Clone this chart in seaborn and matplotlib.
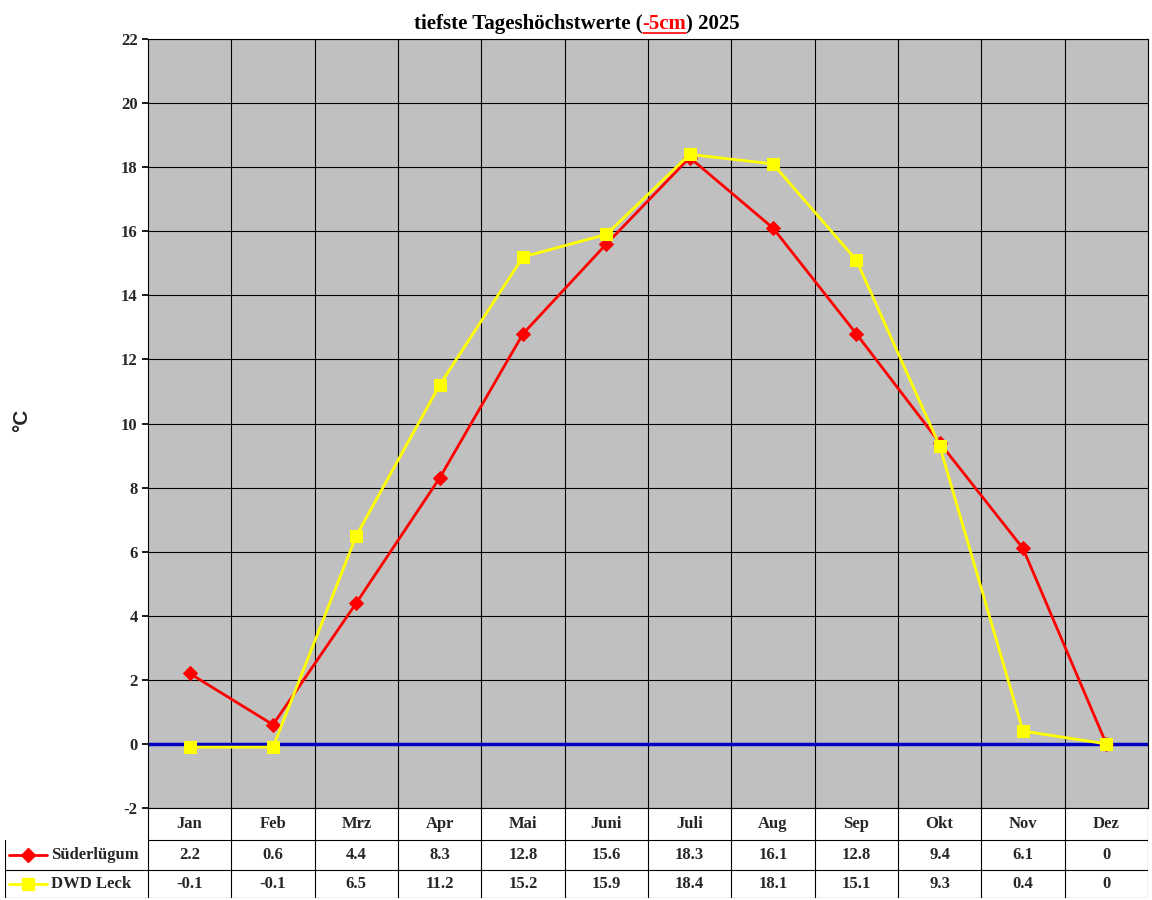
import matplotlib
matplotlib.use("Agg")
import matplotlib.pyplot as plt
import seaborn as sns
import numpy as np

months = ["Jan","Feb","Mrz","Apr","Mai","Juni","Juli","Aug","Sep","Okt","Nov","Dez"]
sued = [2.2,0.6,4.4,8.3,12.8,15.6,18.3,16.1,12.8,9.4,6.1,0]
dwd = [-0.1,-0.1,6.5,11.2,15.2,15.9,18.4,18.1,15.1,9.3,0.4,0]
sued_lbl = ["2.2","0.6","4.4","8.3","12.8","15.6","18.3","16.1","12.8","9.4","6.1","0"]
dwd_lbl = ["-0.1","-0.1","6.5","11.2","15.2","15.9","18.4","18.1","15.1","9.3","0.4","0"]
yticks = list(range(-2, 23, 2))

sns.set_theme(style="white")
plt.rcParams['font.family'] = ['Liberation Serif', 'DejaVu Serif']
fig = plt.figure(figsize=(11.52, 9), dpi=100)
W, H = 1152, 900
L, R, T, B = 148, 1148, 39, 808
ax = fig.add_axes([L/W, 1-B/H, (R-L)/W, (B-T)/H])
ax.set_facecolor("#C0C0C0")
x = np.arange(12)
ax.set_xlim(-0.5, 11.5); ax.set_ylim(-2, 22)
for v in np.arange(0.5, 11.5, 1):
    ax.axvline(v, color="black", lw=0.8, zorder=1)
for v in yticks:
    ax.axhline(v, color="black", lw=0.8, zorder=1)
ax.axhline(0, color="#0000C0", lw=2.5, zorder=2)
sns.lineplot(x=x, y=sued, ax=ax, color="#FF0000", lw=2, marker="D", markersize=7, markeredgecolor="#FF0000", zorder=3)
sns.lineplot(x=x, y=dwd, ax=ax, color="#FFFF00", lw=2, marker="s", markersize=9, markeredgecolor="#FFFF00", zorder=4)
ax.set_xticks([])
ax.set_yticks(yticks)
ax.set_yticklabels([str(v) for v in yticks], fontsize=12, fontweight="bold")
ax.tick_params(axis="y", length=4, left=True, color="black")
for s in ax.spines.values():
    s.set_color("black"); s.set_linewidth(0.8)

# table
ext = (L-5)/((R-L)/12)
at = fig.add_axes([5/W, 1-898/H, (R-5)/W, (898-808)/H])
at.set_xlim(-0.5-ext, 11.5); at.set_ylim(0, 90)
at.axis("off")
rows_y = [0, 28, 58, 90]
for yy in rows_y[:3]:
    at.plot([-0.5-ext if yy < 58 else -0.5, 11.5], [yy, yy], color="black", lw=0.8)
at.plot([-0.5-ext, -0.5-ext], [0, 58], color="black", lw=0.8)
for v in np.arange(-0.5, 11.6, 1):
    at.plot([v, v], [0, 90], color="black", lw=0.8)
for i, m in enumerate(months):
    at.text(i, 74, m, ha="center", va="center", fontsize=12, fontweight="bold")
    at.text(i, 43, sued_lbl[i], ha="center", va="center", fontsize=12, fontweight="bold")
    at.text(i, 14, dwd_lbl[i], ha="center", va="center", fontsize=12, fontweight="bold")
lx0 = -0.5-ext+0.05
at.plot([lx0, lx0+0.45], [43, 43], color="#FF0000", lw=2)
at.plot([lx0+0.225], [43], marker="D", color="#FF0000", markersize=7)
at.plot([lx0, lx0+0.45], [14, 14], color="#FFFF00", lw=2)
at.plot([lx0+0.225], [14], marker="s", color="#FFFF00", markersize=9)
at.text(lx0+0.5, 43, "Süderlügum", ha="left", va="center", fontsize=12, fontweight="bold")
at.text(lx0+0.5, 14, "DWD Leck", ha="left", va="center", fontsize=12, fontweight="bold")

fig.text(22/W, 1-420/H, "°C", rotation=90, ha="center", va="center", fontsize=15,
         fontweight="bold", family=["Liberation Sans", "DejaVu Sans"])

# title in pieces
parts = [("tiefste Tageshöchstwerte (", "black", False), ("-5cm", "#FF0000", True), (") 2025", "black", False)]
fig.canvas.draw()
rend = fig.canvas.get_renderer()
texts = []
for s, c, u in parts:
    t = fig.text(0, 1-24/H, s, color=c, fontsize=15, fontweight="bold", va="center", ha="left")
    texts.append(t)
widths = [t.get_window_extent(rend).width for t in texts]
x0 = 577 - sum(widths)/2
for t, w, (s, c, u) in zip(texts, widths, parts):
    t.set_x(x0/W)
    if u:
        fig.add_artist(plt.Line2D([x0/W, (x0+w)/W], [1-33/H, 1-33/H], color=c, lw=1.2))
    x0 += w

fig.savefig("out.png", dpi=100, facecolor="white")
